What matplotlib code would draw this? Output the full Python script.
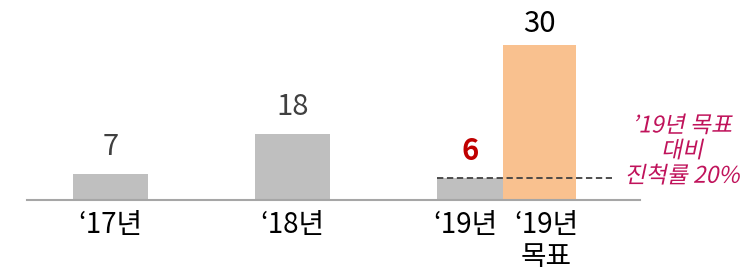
import matplotlib.pyplot as plt
from matplotlib.patheffects import AbstractPathEffect
from matplotlib.transforms import Affine2D, ScaledTranslation

plt.rcParams['font.family'] = ['Noto Sans CJK KR', 'DejaVu Sans']

# data
labels = ['‘17년', '‘18년', '‘19년', '‘19년\n목표']
actual = [7, 18, 6]
target = 30
progress_note = '’19년 목표\n대비\n진척률 20%'


class Oblique(AbstractPathEffect):
    """Fake italic: skew glyphs around their own baseline."""
    def __init__(self, deg=12):
        super().__init__()
        self.deg = deg

    def draw_path(self, renderer, gc, tpath, affine, rgbFace=None):
        yb = affine.get_matrix()[1, 2]
        sk = Affine2D().translate(0, -yb).skew_deg(self.deg, 0).translate(0, yb)
        renderer.draw_path(gc, tpath, affine + sk, rgbFace)


fig = plt.figure(figsize=(7.56, 2.74), dpi=100)
ax2 = fig.add_axes([27 / 756, 74 / 274, 613 / 756, 200 / 274])
ax = fig.add_axes([27 / 756, 74 / 274, 613 / 756, 200 / 274], sharex=ax2)

pos = [0, 1, 1.975, 2.357]
widths = [0.41, 0.41, 0.36, 0.40]

# target bar on its own scale, actual bars on top
ax2.bar(pos[3], target, width=widths[3], color='#F9C18F')
ax.bar(pos[:3], actual, width=widths[:3], color='#BFBFBF')

ax.set_xlim(-0.459, 2.909)
ax.set_ylim(0, 54.8)
ax2.set_ylim(0, 38.7)

val_colors = ['#404040', '#404040', '#C00000']
val_weights = ['normal', 'normal', 'bold']
for x, v, c, w in zip(pos[:3], actual, val_colors, val_weights):
    ax.annotate(str(v), (x, v), xytext=(0, 9), textcoords='offset points',
                ha='center', va='bottom', fontsize=21, color=c, fontweight=w)
ax2.annotate(str(target), (pos[3], target), xytext=(0, 4), textcoords='offset points',
             ha='center', va='bottom', fontsize=21, color='black')

# dashed progress line at the '19 level
ax.plot([pos[2] - widths[2] / 2, 2.755], [actual[2], actual[2]],
        ls=(0, (3.5, 2)), color='#404040', lw=1.3)

ax.text(3.14, 13.4, progress_note, ha='center', va='center', fontsize=16.5,
        color='#C0135B', linespacing=1.12, clip_on=False,
        path_effects=[Oblique(12)])

ax.set_xticks(pos)
ax.set_xticklabels(labels, fontsize=20, color='black', linespacing=1.12)
ax.tick_params(axis='x', length=0, pad=7)
shifts = [0, 0, -5, 7]
for lab, dx in zip(ax.get_xticklabels(), shifts):
    lab.set_transform(lab.get_transform() + ScaledTranslation(dx / 100, 0, fig.dpi_scale_trans))

for a in (ax, ax2):
    a.set_yticks([])
    for s in ['top', 'left', 'right']:
        a.spines[s].set_visible(False)
    a.patch.set_visible(False)
ax2.tick_params(axis='x', labelbottom=False, length=0)
ax2.spines['bottom'].set_visible(False)
ax.spines['bottom'].set_color('#A6A6A6')
ax.spines['bottom'].set_linewidth(1.5)

fig.savefig('out.png', dpi=100)
